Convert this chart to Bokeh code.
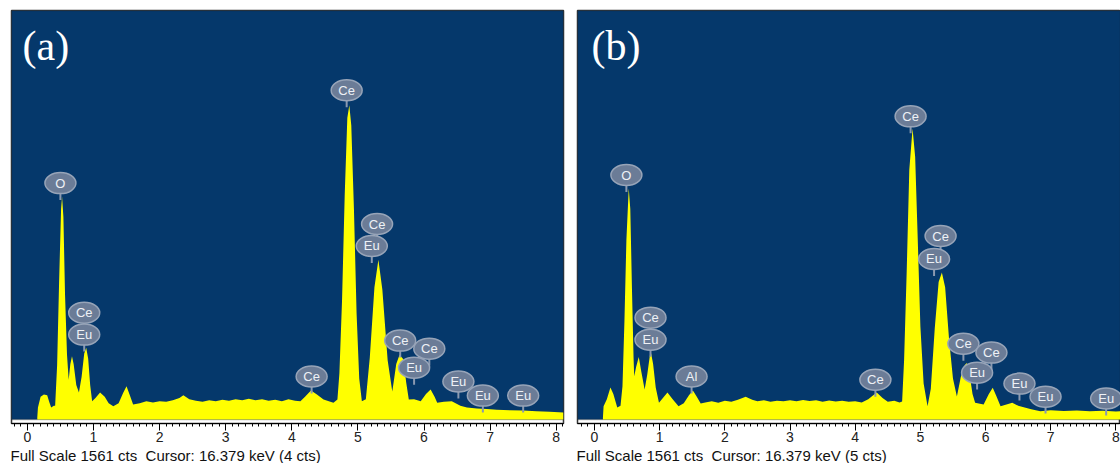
from bokeh.plotting import figure
from bokeh.layouts import row
from bokeh.models import Range1d, SingleIntervalTicker, Label, Title, BoxAnnotation
from bokeh.core.properties import value
from bokeh.embed import file_html
from bokeh.resources import INLINE

# ---------------- data ----------------
energy_a = [0.15, 0.16, 0.20, 0.25, 0.30, 0.33, 0.36, 0.40, 0.42, 0.45, 0.48, 0.51, 0.525, 0.545, 0.57, 0.60,
            0.625, 0.65, 0.675, 0.70, 0.74, 0.78, 0.82, 0.86, 0.89, 0.92, 0.95, 0.98, 1.03, 1.10, 1.17, 1.23,
            1.30, 1.38, 1.45, 1.50, 1.55, 1.60, 1.70, 1.80, 1.90, 2.00, 2.10, 2.20, 2.30, 2.36, 2.45, 2.55,
            2.65, 2.75, 2.85, 2.95, 3.05, 3.15, 3.25, 3.35, 3.45, 3.55, 3.65, 3.75, 3.85, 3.95, 4.05, 4.13,
            4.20, 4.29, 4.38, 4.48, 4.56, 4.63, 4.69, 4.72, 4.76, 4.80, 4.84, 4.87, 4.90, 4.94, 4.98, 5.02,
            5.06, 5.12, 5.18, 5.25, 5.31, 5.37, 5.45, 5.52, 5.58, 5.63, 5.69, 5.73, 5.77, 5.85, 5.95, 6.03,
            6.10, 6.16, 6.20, 6.30, 6.42, 6.55, 6.65, 6.80, 6.95, 7.10, 7.30, 7.50, 7.70, 7.90, 8.11]
counts_a = [0, 38, 80, 88, 85, 60, 38, 45, 45, 200, 520, 800, 847, 770, 470, 240,
            145, 205, 235, 205, 125, 96, 155, 245, 268, 225, 125, 62, 75, 96, 80, 55,
            43, 55, 95, 120, 85, 50, 55, 62, 58, 62, 60, 66, 75, 85, 70, 64,
            60, 66, 62, 68, 64, 70, 66, 72, 66, 70, 64, 68, 62, 70, 64, 62,
            80, 104, 88, 69, 62, 57, 69, 170, 450, 850, 1150, 1198, 1120, 800, 400, 150,
            62, 70, 230, 500, 605, 490, 220, 100, 205, 241, 222, 135, 69, 70, 62, 90,
            107, 80, 57, 60, 62, 45, 38, 35, 33, 30, 28, 27, 24, 22, 19]

energy_b = [0.13, 0.14, 0.19, 0.245, 0.29, 0.35, 0.40, 0.43, 0.46, 0.49, 0.526, 0.55, 0.575, 0.60, 0.61,
            0.64, 0.68, 0.72, 0.77, 0.81, 0.85, 0.87, 0.90, 0.94, 0.99, 1.05, 1.12, 1.20, 1.29, 1.37,
            1.45, 1.51, 1.57, 1.63, 1.70, 1.80, 1.90, 2.00, 2.10, 2.20, 2.32, 2.42, 2.50, 2.60, 2.70,
            2.80, 2.90, 3.00, 3.10, 3.20, 3.30, 3.40, 3.50, 3.60, 3.70, 3.80, 3.90, 4.00, 4.10, 4.20,
            4.33, 4.42, 4.50, 4.60, 4.68, 4.72, 4.75, 4.79, 4.83, 4.88, 4.92, 4.96, 5.00, 5.05, 5.11,
            5.16, 5.22, 5.28, 5.33, 5.38, 5.44, 5.50, 5.56, 5.62, 5.68, 5.71, 5.75, 5.80, 5.84, 5.97,
            6.05, 6.11, 6.17, 6.23, 6.32, 6.41, 6.50, 6.60, 6.70, 6.84, 7.00, 7.20, 7.40, 7.60, 7.80,
            8.00, 8.07]
counts_b = [0, 43, 70, 115, 90, 38, 45, 120, 370, 680, 879, 800, 500, 230, 158,
            195, 232, 175, 107, 165, 238, 245, 205, 115, 57, 75, 96, 70, 43, 55,
            85, 104, 80, 54, 58, 62, 57, 64, 60, 68, 80, 68, 62, 66, 60,
            64, 62, 66, 62, 67, 63, 66, 60, 65, 61, 64, 60, 62, 58, 70,
            96, 75, 60, 64, 58, 61, 220, 560, 950, 1108, 1000, 680, 350, 130, 43,
            110, 340, 520, 556, 500, 300, 150, 81, 155, 200, 209, 175, 90, 57, 50,
            90, 114, 80, 43, 50, 57, 45, 38, 32, 24, 28, 25, 27, 24, 26,
            23, 24]

badge_a_kev = [0.50, 0.86, 0.86, 4.83, 5.29, 5.21, 5.64, 5.85, 6.08, 4.30, 6.52, 6.89, 7.50]
badge_a_cts = [899, 402, 318, 1255, 742, 658, 295, 191, 264, 157, 138, 84, 84]
badge_a_text = ["O", "Ce", "Eu", "Ce", "Ce", "Eu", "Ce", "Eu", "Ce", "Ce", "Eu", "Eu", "Eu"]

badge_b_kev = [0.49, 0.86, 0.86, 1.49, 4.85, 5.31, 5.21, 5.66, 5.87, 6.09, 4.31, 6.52, 6.92, 7.85]
badge_b_cts = [930, 383, 298, 157, 1155, 696, 608, 283, 172, 249, 145, 130, 80, 73]
badge_b_text = ["O", "Ce", "Eu", "Al", "Ce", "Ce", "Eu", "Ce", "Eu", "Ce", "Ce", "Eu", "Eu", "Eu"]

panel_names = ["(a)", "(b)"]
footers = ["Full Scale 1561 cts\u00a0 Cursor: 16.379 keV (4 cts)",
           "Full Scale 1561 cts\u00a0 Cursor: 16.379 keV (5 cts)"]
tick_labels = {i: str(i) for i in range(9)}

BLUE = "#05386b"
YELLOW = "#ffff00"
FULL_SCALE = 1561


def make_panel(energy, counts, bk, bc, bt, name, footer, width, xr, mbl, mbr, label_x):
    p = figure(width=width, height=463, x_range=Range1d(*xr), y_range=Range1d(-23, FULL_SCALE),
               output_backend="svg", toolbar_location=None, y_axis_location=None,
               min_border_left=mbl, min_border_right=mbr, min_border_top=10, min_border_bottom=39)
    p.background_fill_color = "white"
    p.border_fill_color = "white"
    p.outline_line_color = "#333333"
    p.outline_line_width = 1.5
    p.grid.visible = False

    p.add_layout(BoxAnnotation(bottom=-8, fill_color=BLUE, fill_alpha=1.0,
                               line_color="#222222", line_width=1.5, level="underlay"))
    p.varea(x=energy, y1=-8, y2=counts, fill_color=YELLOW)

    stem_end = [c - 65 for c in bc]
    p.segment(x0=bk, y0=bc, x1=bk, y1=stem_end, line_color="#8a99b0", line_width=2)
    p.ellipse(x=bk, y=bc, width=31, height=21, width_units="screen", height_units="screen",
              fill_color="#6b7c97", line_color="#97a4b8", line_width=1.5)
    p.text(x=bk, y=bc, text=bt, text_align="center", text_baseline="middle",
           text_color="#eef1f6", text_font=value("Liberation Sans"), text_font_size="13px")

    ax = p.xaxis[0]
    ax.ticker = SingleIntervalTicker(interval=1, num_minor_ticks=10)
    ax.major_label_overrides = tick_labels
    ax.major_tick_in = 0
    ax.major_tick_out = 7
    ax.minor_tick_in = 0
    ax.minor_tick_out = 3
    ax.axis_line_color = "black"
    ax.major_tick_line_color = "black"
    ax.minor_tick_line_color = "black"
    ax.major_label_standoff = 1
    ax.major_label_text_font = "Liberation Sans"
    ax.major_label_text_font_size = "14px"
    ax.major_label_text_color = "#222222"

    p.add_layout(Title(text=footer, align="left", text_font="Liberation Sans", text_font_size="15px",
                       text_font_style="normal", text_color="#111111", standoff=0, offset=-1), "below")

    p.add_layout(Label(x=label_x, y=355, x_units="screen", y_units="screen", text=name,
                       text_font="Liberation Serif", text_font_size="42px", text_color="white"))
    return p


pa = make_panel(energy_a, counts_a, badge_a_kev, badge_a_cts, badge_a_text, panel_names[0], footers[0],
                570, (-0.24, 8.11), 11, 7, 11)
pb = make_panel(energy_b, counts_b, badge_b_kev, badge_b_cts, badge_b_text, panel_names[1], footers[1],
                550, (-0.26, 8.07), 7, 0, 14)

layout = row(pa, pb)
open("out.html", "w").write(file_html(layout, INLINE))
